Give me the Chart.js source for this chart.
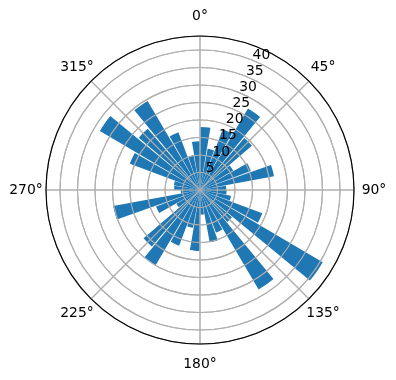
<!DOCTYPE html>
<html>
<head>
<meta charset="utf-8">
<script src="https://cdn.jsdelivr.net/npm/chart.js@4.4.0/dist/chart.umd.min.js"></script>
<style>
  html, body { margin: 0; padding: 0; background: #fff; }
  #wrap { width: 396px; height: 380px; }
</style>
</head>
<body>
<div id="wrap"><canvas id="rose"></canvas></div>
<script>
var directionLabels = ['0°', '45°', '90°', '135°', '180°', '225°', '270°', '315°'];
var binCenters = [5, 15, 25, 35, 45, 55, 65, 75, 85, 95, 105, 115, 125, 135, 145, 155, 165, 175,
                  185, 195, 205, 215, 225, 235, 245, 255, 265, 275, 285, 295, 305, 315, 325, 335, 345, 355];
var counts = [18, 12, 18.5, 27, 19.5, 11, 15.5, 21.5, 7.5, 7.6, 9, 19, 40.7, 12, 33, 13, 15.2, 7,
              17.4, 11, 17, 24.9, 21.2, 7.8, 13.4, 25.2, 5.5, 7.4, 7.6, 21.4, 33.2, 23, 29.5, 17.6, 10, 13.9];
var radialTicks = [5, 10, 15, 20, 25, 30, 35, 40];
var rMax = 44;
var barWidth = 9; // degrees

// every bin becomes an empty wedge + the bar, so the bars keep their thin gaps
var segValues = [];
var segAngles = [];
var prevEnd = 0;
binCenters.forEach(function (c, i) {
  var start = c - barWidth / 2;
  segValues.push(0, counts[i]);
  segAngles.push(start - prevEnd, barWidth);
  prevEnd = start + barWidth;
});
segValues.push(0);
segAngles.push(360 - prevEnd);

var overlay = {
  id: 'overlay',
  afterDatasetsDraw: function (chart) {
    var r = chart.scales.r;
    var ctx = chart.ctx;
    // matplotlib puts the grid on top of the bars
    r.drawGrid(chart.chartArea);
    ctx.save();
    ctx.beginPath();
    ctx.arc(r.xCenter, r.yCenter, r.drawingArea, 0, 2 * Math.PI);
    ctx.strokeStyle = '#000';
    ctx.lineWidth = 1.1;
    ctx.stroke();

    ctx.fillStyle = '#000';
    ctx.font = '13.9px "DejaVu Sans"';
    var a = 22.5 * Math.PI / 180;
    ctx.textAlign = 'left';
    ctx.textBaseline = 'alphabetic';
    radialTicks.forEach(function (v) {
      var d = r.getDistanceFromCenterForValue(v);
      ctx.fillText(String(v), r.xCenter + d * Math.sin(a) - 1, r.yCenter - d * Math.cos(a) - 2);
    });

    ctx.textAlign = 'center';
    ctx.textBaseline = 'middle';
    directionLabels.forEach(function (lab, i) {
      var p = r.getPointPosition(i, r.drawingArea + 20);
      ctx.fillText(lab, p.x, p.y);
    });
    ctx.restore();
  }
};

new Chart(document.getElementById('rose'), {
  type: 'polarArea',
  data: {
    labels: directionLabels,
    datasets: [{
      data: segValues,
      angle: function (c) { return segAngles[c.dataIndex]; },
      backgroundColor: function (c) { return segValues[c.dataIndex] > 0 ? '#1f77b4' : 'rgba(0,0,0,0)'; },
      borderWidth: 0
    }]
  },
  options: {
    responsive: true,
    maintainAspectRatio: false,
    animation: false,
    layout: { padding: { left: 46, right: 42, top: 36, bottom: 36 } },
    scales: {
      r: {
        min: 0,
        max: rMax,
        startAngle: 0,
        ticks: { display: false, stepSize: 5 },
        grid: { color: '#b0b0b0', lineWidth: 1.1, circular: true },
        angleLines: { display: true, color: '#b0b0b0', lineWidth: 1.1 },
        pointLabels: { display: false }
      }
    },
    plugins: {
      legend: { display: false },
      tooltip: { enabled: false }
    }
  },
  plugins: [overlay]
});
</script>
</body>
</html>
